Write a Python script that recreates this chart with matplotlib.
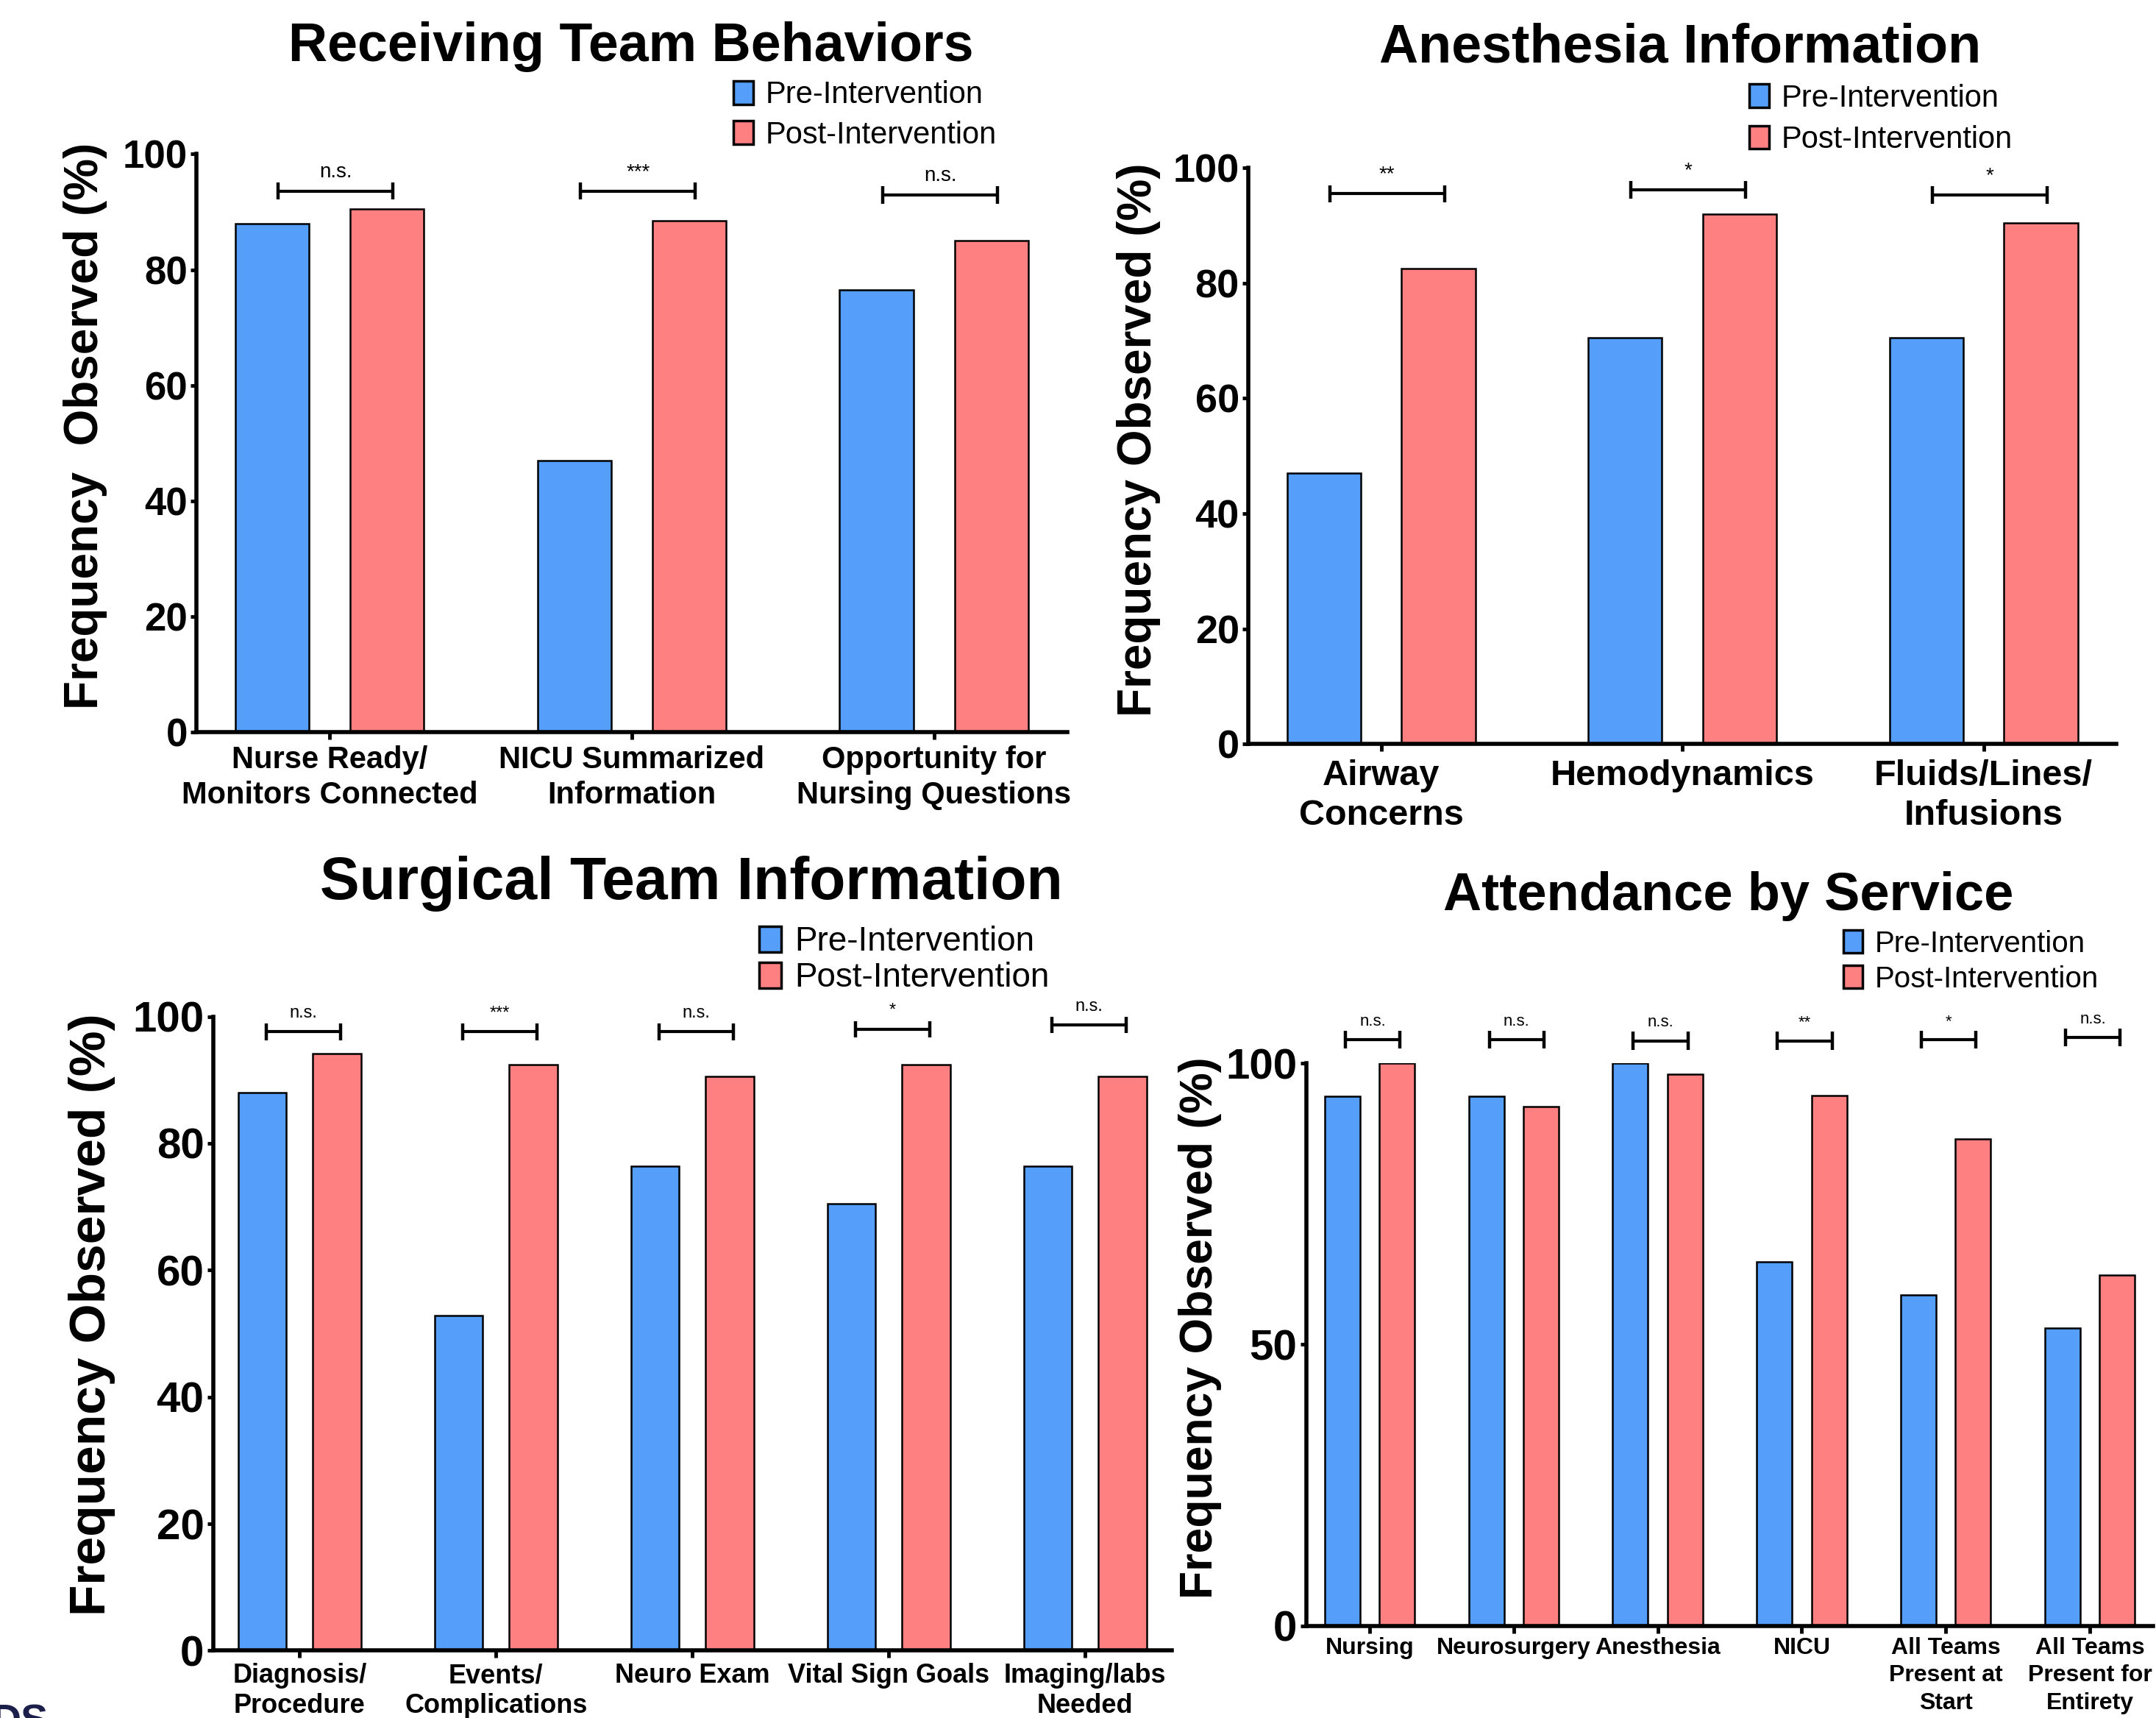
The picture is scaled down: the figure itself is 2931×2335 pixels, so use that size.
import matplotlib
matplotlib.use("Agg")
import numpy as np
import matplotlib.pyplot as plt
from matplotlib.patches import Patch

# warna batang
pre_color = "#559ffa"
post_color = "#ff8080"
font = ["Liberation Sans", "DejaVu Sans"]
plt.rcParams["font.family"] = font

# data panel 1
p1_groups = ["Nurse Ready/\nMonitors Connected", "NICU Summarized\nInformation", "Opportunity for\nNursing Questions"]
p1_pre = [88, 47, 76.5]
p1_post = [90.5, 88.5, 85]
p1_sig = ["n.s.", "***", "n.s."]
p1_sig_y = [93.6, 93.6, 92.9]

# data panel 2
p2_groups = ["Airway\nConcerns", "Hemodynamics", "Fluids/Lines/\nInfusions"]
p2_pre = [47, 70.5, 70.5]
p2_post = [82.5, 92, 90.5]
p2_sig = ["**", "*", "*"]
p2_sig_y = [95.5, 96.2, 95.3]

# data panel 3
p3_groups = ["Diagnosis/\nProcedure", "Events/\nComplications", "Neuro Exam", "Vital Sign Goals", "Imaging/labs\nNeeded"]
p3_pre = [88, 52.8, 76.4, 70.5, 76.4]
p3_post = [94.2, 92.4, 90.6, 92.4, 90.6]
p3_sig = ["n.s.", "***", "n.s.", "*", "n.s."]
p3_sig_y = [97.6, 97.6, 97.6, 98, 98.7]

# data panel 4
p4_groups = ["Nursing", "Neurosurgery", "Anesthesia", "NICU", "All Teams\nPresent at\nStart", "All Teams\nPresent for\nEntirety"]
p4_pre = [94.1, 94.1, 100, 64.7, 58.8, 52.9]
p4_post = [100, 92.3, 98.1, 94.2, 86.5, 62.3]
p4_sig = ["n.s.", "n.s.", "n.s.", "**", "*", "n.s."]
p4_sig_y = [104.2, 104.2, 104.0, 104.0, 104.2, 104.6]


def panel(ax, groups, pre, post, sig, sig_y, yticks, ytick_size, xtick_size, sig_size, cap,
          lsp=1.2, xpad=3):
    x = np.arange(len(groups))
    w = 0.245
    off = 0.19
    ax.bar(x - off, pre, w, color=pre_color, edgecolor="black", linewidth=1.8, zorder=2)
    ax.bar(x + off, post, w, color=post_color, edgecolor="black", linewidth=1.8, zorder=2)

    # garis signifikansi
    for i in range(len(groups)):
        x1, x2 = x[i] - off + 0.02, x[i] + off + 0.02
        y = sig_y[i]
        ax.plot([x1, x2], [y, y], color="black", lw=3, clip_on=False, solid_capstyle="butt")
        ax.vlines([x1, x2], y - cap, y + cap, color="black", lw=3.2, clip_on=False)
        ax.text((x1 + x2) / 2, y + cap + 0.9, sig[i], ha="center", va="baseline",
                fontsize=sig_size, clip_on=False)

    ax.set_xlim(-0.44, len(groups) - 0.56)
    ax.set_ylim(0, 100)
    ax.set_yticks(yticks)
    ax.set_xticks(x)
    ax.set_xticklabels(groups, fontweight="bold", fontsize=xtick_size, linespacing=lsp)
    for lab in ax.get_yticklabels():
        lab.set_fontweight("bold")
        lab.set_fontsize(ytick_size)
    ax.spines["top"].set_visible(False)
    ax.spines["right"].set_visible(False)
    ax.spines["left"].set_linewidth(4)
    ax.spines["bottom"].set_linewidth(4)
    ax.tick_params(axis="x", length=7, width=3.5, pad=xpad)
    ax.tick_params(axis="y", length=6, width=3.5, pad=3)


fig = plt.figure(figsize=(29.31, 23.35), dpi=100)

ax1 = fig.add_axes([0.0912, 0.574, 0.4037, 0.3363])
panel(ax1, p1_groups, p1_pre, p1_post, p1_sig, p1_sig_y, [0, 20, 40, 60, 80, 100], 38, 30, 20, 1.5,
      lsp=1.25, xpad=6)

ax2 = fig.add_axes([0.5791, 0.5669, 0.4024, 0.3354])
panel(ax2, p2_groups, p2_pre, p2_post, p2_sig, p2_sig_y, [0, 20, 40, 60, 80, 100], 39, 35, 20, 1.5,
      lsp=1.25, xpad=8)

ax3 = fig.add_axes([0.0989, 0.0392, 0.4445, 0.3691])
panel(ax3, p3_groups, p3_pre, p3_post, p3_sig, p3_sig_y, [0, 20, 40, 60, 80, 100], 42, 26, 17, 1.3,
      lsp=1.2, xpad=5)

ax4 = fig.add_axes([0.6059, 0.0536, 0.3928, 0.3275])
panel(ax4, p4_groups, p4_pre, p4_post, p4_sig, p4_sig_y, [0, 50, 100], 42, 23, 16, 1.6,
      lsp=1.32, xpad=4)

# judul panel
fig.text(0.2927, 0.9728, "Receiving Team Behaviors", ha="center", va="center", fontsize=53, fontweight="bold")
fig.text(0.7793, 0.9722, "Anesthesia Information", ha="center", va="center", fontsize=53, fontweight="bold")
fig.text(0.3208, 0.4856, "Surgical Team Information", ha="center", va="center", fontsize=58, fontweight="bold")
fig.text(0.8017, 0.4784, "Attendance by Service", ha="center", va="center", fontsize=52, fontweight="bold")

# label sumbu y
fig.text(0.0395, 0.752, "Frequency  Observed (%)", rotation=90, ha="center", va="center", fontsize=46, fontweight="bold")
fig.text(0.528, 0.744, "Frequency Observed (%)", rotation=90, ha="center", va="center", fontsize=46, fontweight="bold")
fig.text(0.0427, 0.235, "Frequency Observed (%)", rotation=90, ha="center", va="center", fontsize=50, fontweight="bold")
fig.text(0.5568, 0.227, "Frequency Observed (%)", rotation=90, ha="center", va="center", fontsize=45, fontweight="bold")

# legenda
handles = [Patch(facecolor=pre_color, edgecolor="black", linewidth=2.5, label="Pre-Intervention"),
           Patch(facecolor=post_color, edgecolor="black", linewidth=2.5, label="Post-Intervention")]
legend_spec = [((0.340, 0.933), 30, 0.35), ((0.8112, 0.9307), 30, 0.39),
               ((0.352, 0.4413), 33, 0.11), ((0.855, 0.4404), 29, 0.25)]
for xy, fs, ls in legend_spec:
    fig.legend(handles=handles, loc="center left", bbox_to_anchor=xy, frameon=False,
               prop={"size": fs}, handlelength=0.65, handleheight=0.8,
               handletextpad=0.4, labelspacing=ls, borderpad=0, borderaxespad=0)

# sisa teks di pojok kiri bawah
fig.text(-0.004, 0.0085, "DS", ha="left", va="top", fontsize=40, fontweight="bold", color="#1b1f4a")

fig.savefig("out.png", dpi=100)
